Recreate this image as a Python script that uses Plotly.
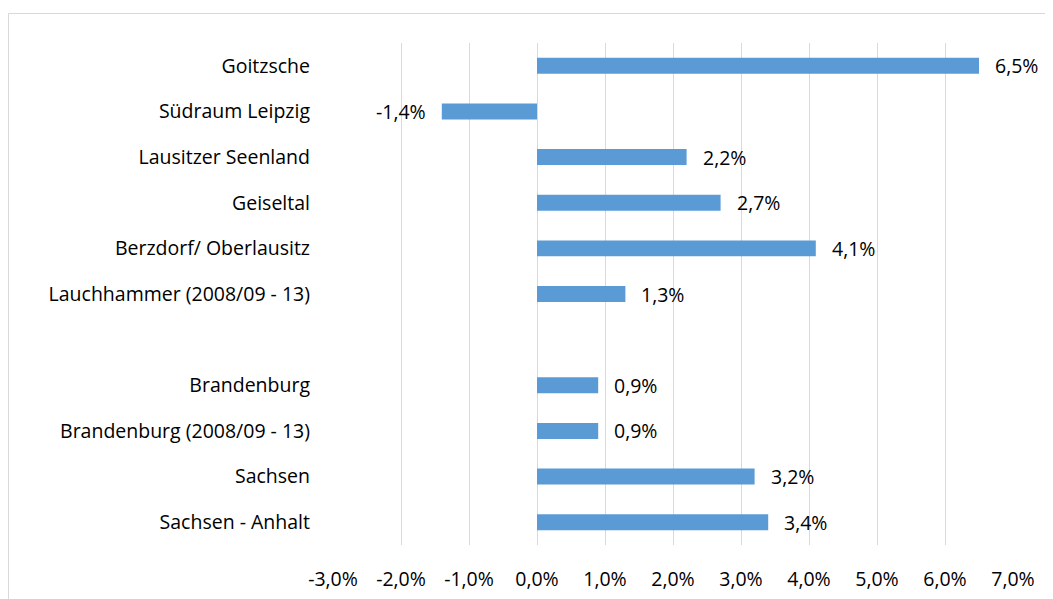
import plotly.graph_objects as go

categories = ["Goitzsche", "Südraum Leipzig", "Lausitzer Seenland", "Geiseltal",
              "Berzdorf/ Oberlausitz", "Lauchhammer (2008/09 - 13)", " ",
              "Brandenburg", "Brandenburg (2008/09 - 13)", "Sachsen", "Sachsen - Anhalt"]
values = [6.5, -1.4, 2.2, 2.7, 4.1, 1.3, None, 0.9, 0.9, 3.2, 3.4]
x_ticks = [-3, -2, -1, 0, 1, 2, 3, 4, 5, 6, 7]

def fmt(v):
    return f"{v:.1f}".replace(".", ",") + "%"

# page has an 8px body margin; figure origin is at (8, 8)
OFF = 8
W, H = 1053 - OFF, 599 - OFF
L, T = 333 - OFF, 43 - OFF
pw, ph = 680, 502
R = W - L - pw
B = H - T - ph

fig = go.Figure(go.Bar(
    y=categories, x=values, orientation="h",
    marker=dict(color="#5B9BD5", line=dict(width=0)),
    width=0.35, hoverinfo="skip"
))

font = dict(family="Open Sans, sans-serif", size=19.5, color="#000000")

for c, v in zip(categories, values):
    if v is None:
        continue
    fig.add_annotation(
        x=v, y=c, xref="x", yref="y",
        text=fmt(v),
        showarrow=False,
        xanchor="left" if v >= 0 else "right",
        xshift=14 if v >= 0 else -14,
        font=font,
    )

def px2x(px):
    return (px - OFF - L) / pw

def px2y(py):
    return 1 - (py - OFF - T) / ph

fig.add_shape(type="rect", xref="paper", yref="paper",
              x0=px2x(8.5), x1=px2x(1052), y0=px2y(620), y1=px2y(13.5),
              line=dict(color="#D9D9D9", width=1), fillcolor="rgba(0,0,0,0)",
              layer="below")

fig.update_layout(
    width=W, height=H,
    margin=dict(l=L, r=R, t=T, b=B, autoexpand=False),
    paper_bgcolor="white", plot_bgcolor="white",
    showlegend=False,
    font=font,
    xaxis=dict(
        range=[-3, 7], tickvals=x_ticks, ticktext=[fmt(t) for t in x_ticks],
        showgrid=True, gridcolor="#D9D9D9", gridwidth=1,
        zeroline=True, zerolinecolor="#D9D9D9", zerolinewidth=1,
        showline=False, ticks="", ticklabelstandoff=20, tickfont=font,
        fixedrange=True,
    ),
    yaxis=dict(
        categoryorder="array", categoryarray=categories, autorange="reversed",
        showgrid=False, zeroline=False, showline=False, ticks="",
        ticklabelstandoff=22, tickfont=font, fixedrange=True,
    ),
)

fig.write_html("out.html")
